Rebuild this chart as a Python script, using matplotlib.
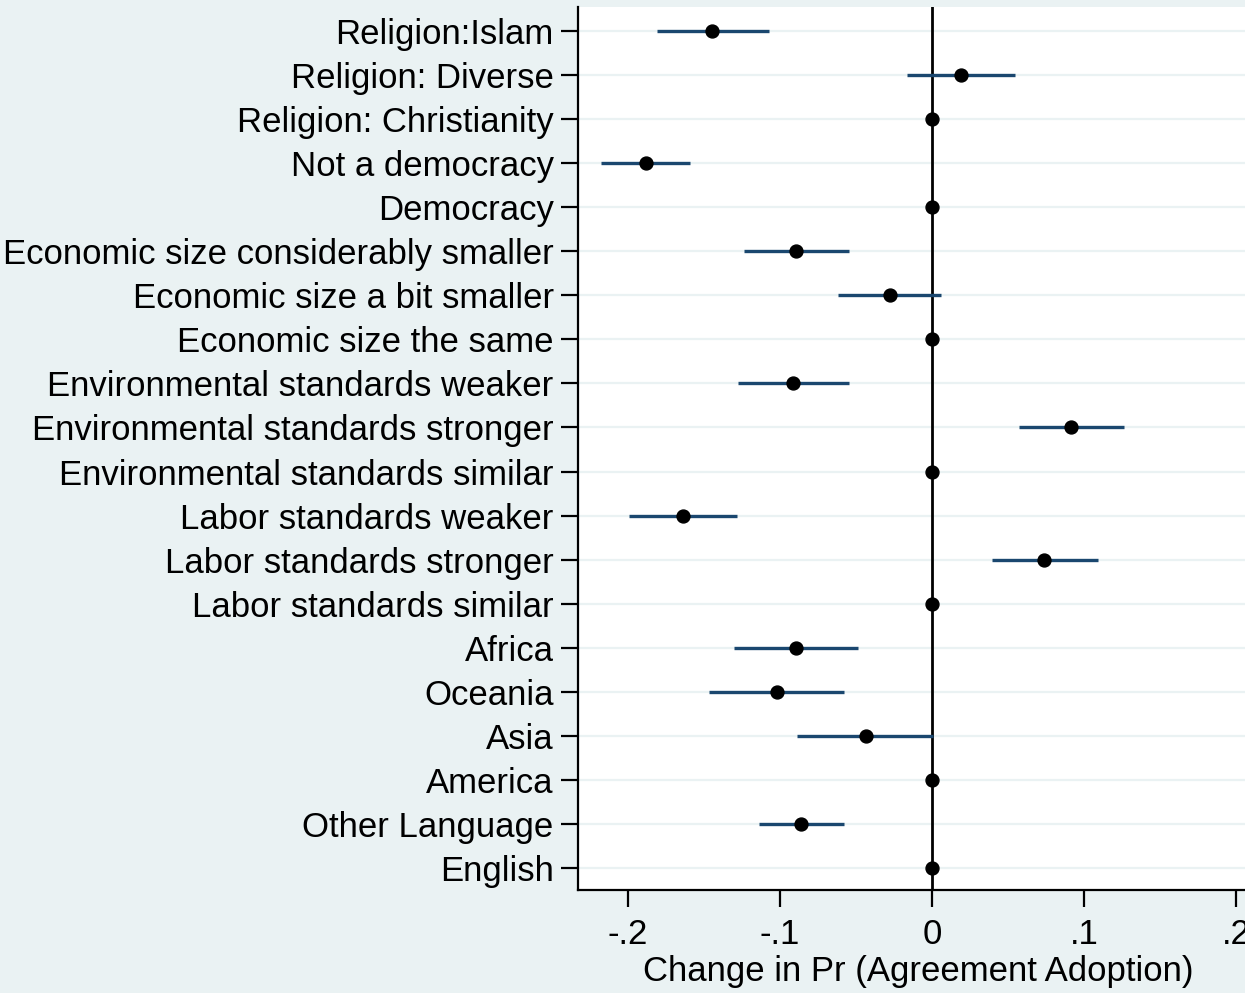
import matplotlib
matplotlib.use("Agg")
import matplotlib.pyplot as plt

labels = [
    "Religion:Islam",
    "Religion: Diverse",
    "Religion: Christianity",
    "Not a democracy",
    "Democracy",
    "Economic size considerably smaller",
    "Economic size a bit smaller",
    "Economic size the same",
    "Environmental standards weaker",
    "Environmental standards stronger",
    "Environmental standards similar",
    "Labor standards weaker",
    "Labor standards stronger",
    "Labor standards similar",
    "Africa",
    "Oceania",
    "Asia",
    "America",
    "Other Language",
    "English",
]
estimate = [-0.1447, 0.0190, 0.0, -0.1880, 0.0, -0.0895, -0.0276, 0.0,
            -0.0914, 0.0914, 0.0, -0.1638, 0.0737, 0.0, -0.0895, -0.1020,
            -0.0434, 0.0, -0.0862, 0.0]
ci_low = [-0.1810, -0.0164, None, -0.2178, None, -0.1240, -0.0618, None,
          -0.1276, 0.0572, None, -0.1993, 0.0395, None, -0.1303, -0.1467,
          -0.0888, None, -0.1138, None]
ci_high = [-0.1070, 0.0546, None, -0.1590, None, -0.0546, 0.0059, None,
           -0.0546, 0.1263, None, -0.1283, 0.1092, None, -0.0487, -0.0579,
           0.0007, None, -0.0579, None]
xticks = [-0.2, -0.1, 0.0, 0.1, 0.2]
xticklabels = ["-.2", "-.1", "0", ".1", ".2"]
xlabel = "Change in Pr (Agreement Adoption)"

bg = "#EAF2F3"
navy = "#1A476F"

plt.rcParams["font.family"] = "Liberation Sans"

fig = plt.figure(figsize=(12.45, 9.93), dpi=100, facecolor=bg)
ax = fig.add_axes([578 / 1245, 1 - 890 / 993, 1 - 578 / 1245, (890 - 7) / 993])
ax.set_facecolor("white")

n = len(labels)
ypos = [n - i for i in range(n)]

# light horizontal guide at each coefficient row
for y in ypos:
    ax.axhline(y, color=bg, lw=1.6, zorder=1)

ax.axvline(0, color="black", lw=2.0, zorder=2)

# confidence intervals and point estimates
for y, lo, hi in zip(ypos, ci_low, ci_high):
    if lo is not None:
        ax.plot([lo, hi], [y, y], color=navy, lw=2.4, solid_capstyle="butt", zorder=3)
ax.plot(estimate, ypos, "o", color="black", ms=9.3, zorder=4)

ax.set_xlim(-0.2329, 0.2059)
ax.set_ylim(0.5, n + 0.545)
ax.set_yticks(ypos)
ax.set_yticklabels(labels, fontsize=25)
ax.set_xticks(xticks)
ax.set_xticklabels(xticklabels, fontsize=25)
ax.set_xlabel(xlabel, fontsize=25)
ax.xaxis.set_label_coords((918 - 578) / 667, -0.074)

for side in ("top", "right"):
    ax.spines[side].set_visible(False)
for side in ("left", "bottom"):
    ax.spines[side].set_linewidth(1.6)
ax.tick_params(axis="both", length=12, width=1.6, color="black")
ax.tick_params(axis="y", pad=5.5)
ax.tick_params(axis="x", pad=8)

fig.savefig("out.png", dpi=100, facecolor=bg)
